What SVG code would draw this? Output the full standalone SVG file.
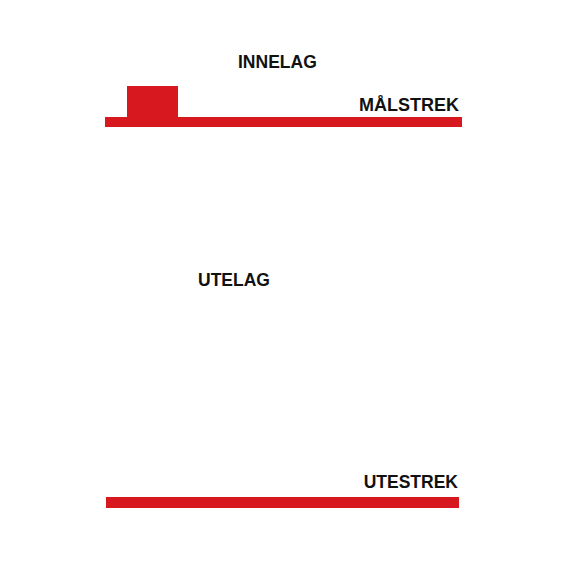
<svg xmlns="http://www.w3.org/2000/svg" width="570" height="570" viewBox="0 0 570 570">
<style>
.bar{fill:#d8181f}
.t{font-family:"Liberation Sans",Arial,sans-serif;font-weight:bold;font-size:17.5px;fill:#111}
.big{font-size:18px}
</style>
<rect width="570" height="570" fill="#fff"/>
<g id="malstrek">
<rect class="bar" x="105" y="117" width="357" height="10"/>
<rect class="bar" x="127" y="86" width="51" height="31"/>
<text class="t big" x="459" y="111" text-anchor="end">MÅLSTREK</text>
</g>
<g id="innelag"><text class="t" x="238" y="68">INNELAG</text></g>
<g id="utelag"><text class="t" x="198" y="286">UTELAG</text></g>
<g id="utestrek">
<rect class="bar" x="106" y="497" width="353" height="11"/>
<text class="t" x="458" y="488" text-anchor="end">UTESTREK</text>
</g>
</svg>
